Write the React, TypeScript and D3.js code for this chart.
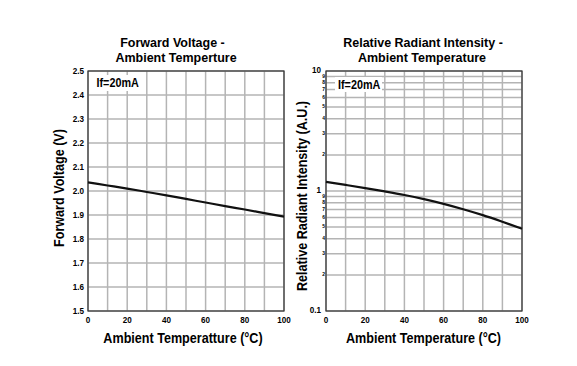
import * as d3 from 'd3'

// temperature samples (°C)
const temps = [0, 10, 20, 30, 40, 50, 60, 70, 80, 90, 100]
// forward voltage (V) at If=20mA
const forwardVoltage = [2.036, 2.023, 2.01, 1.996, 1.982, 1.967, 1.952, 1.937, 1.923, 1.908, 1.893]
// relative radiant intensity (A.U.)
const radiantIntensity = [1.19, 1.123, 1.058, 0.992, 0.926, 0.856, 0.782, 0.705, 0.629, 0.554, 0.485]

const xTickLabels = [0, 20, 40, 60, 80, 100]
const xGrid = [0, 10, 20, 30, 40, 50, 60, 70, 80, 90, 100]
const vfTicks = [1.5, 1.6, 1.7, 1.8, 1.9, 2.0, 2.1, 2.2, 2.3, 2.4, 2.5]
const logMajor = [0.1, 1, 10]
const logMinorDigits = [2, 3, 4, 5, 6, 7, 8, 9]

const FONT = '"Liberation Sans", Arial, Helvetica, sans-serif'
const GRID = '#b4b4b4'

const plotTop = 71
const plotBottom = 311
const leftPlot = { left: 88, right: 284 }
const rightPlot = { left: 326, right: 522 }

function T({ x, y, size, children, anchor = 'middle', rotate = 0, sx = 0.9 }: any) {
  const tr = `translate(${x},${y})${rotate ? ` rotate(${rotate})` : ''} scale(${sx},1)`
  return (
    <text
      transform={tr}
      fontSize={size}
      fontFamily={FONT}
      fontWeight="bold"
      textAnchor={anchor}
      dominantBaseline="central"
      fill="#000"
    >
      {children}
    </text>
  )
}

function LeftChart() {
  const x = d3.scaleLinear().domain([0, 100]).range([leftPlot.left, leftPlot.right])
  const y = d3.scaleLinear().domain([1.5, 2.5]).range([plotBottom, plotTop])
  const line = d3
    .line<number>()
    .x((_, i) => x(temps[i]))
    .y(d => y(d))
    .curve(d3.curveMonotoneX)

  return (
    <g>
      <T x={172.5} y={42} size={13.3} sx={0.94}>Forward Voltage -</T>
      <T x={176} y={57.5} size={13.3} sx={0.94}>Ambient Temperture</T>
      {xGrid.map(t => (
        <line key={'vx' + t} x1={x(t)} x2={x(t)} y1={plotTop} y2={plotBottom} stroke={GRID} strokeWidth={1.5} />
      ))}
      {vfTicks.map(v => (
        <line key={'hy' + v} x1={leftPlot.left} x2={leftPlot.right} y1={y(v)} y2={y(v)} stroke={GRID} strokeWidth={1.5} />
      ))}
      <rect x={leftPlot.left} y={plotTop} width={leftPlot.right - leftPlot.left} height={plotBottom - plotTop} fill="none" stroke="#333" strokeWidth={1.2} />
      <path d={line(forwardVoltage) || ''} fill="none" stroke="#111" strokeWidth={2.2} />
      <rect x={92} y={75} width={50} height={16} fill="#fff" />
      <T x={96.5} y={83} size={12} anchor="start">If=20mA</T>
      {vfTicks.map(v => (
        <T key={'yl' + v} x={84} y={y(v)} size={9} anchor="end">{v.toFixed(1)}</T>
      ))}
      {xTickLabels.map(t => (
        <T key={'xl' + t} x={x(t)} y={320} size={9}>{t}</T>
      ))}
      <T x={183} y={338} size={14}>Ambient Temperatture (°C)</T>
      <T x={59} y={188} size={14} rotate={-90}>Forward Voltage (V)</T>
    </g>
  )
}

function RightChart() {
  const x = d3.scaleLinear().domain([0, 100]).range([rightPlot.left, rightPlot.right])
  const y = d3.scaleLog().domain([0.1, 10]).range([plotBottom, plotTop])
  const line = d3
    .line<number>()
    .x((_, i) => x(temps[i]))
    .y(d => y(d))
    .curve(d3.curveMonotoneX)
  const minor = [0.1, 1].flatMap(dec => logMinorDigits.map(d => ({ v: d * dec, d })))
  const hLines = [...logMajor, ...minor.map(m => m.v)]

  return (
    <g>
      <T x={423} y={42} size={13.3} sx={0.94}>Relative Radiant Intensity -</T>
      <T x={422} y={57.5} size={13.3} sx={0.94}>Ambient Temperature</T>
      {xGrid.map(t => (
        <line key={'vx' + t} x1={x(t)} x2={x(t)} y1={plotTop} y2={plotBottom} stroke={GRID} strokeWidth={1.5} />
      ))}
      {hLines.map(v => (
        <line key={'hy' + v} x1={rightPlot.left} x2={rightPlot.right} y1={y(v)} y2={y(v)} stroke={GRID} strokeWidth={1.5} />
      ))}
      <rect x={rightPlot.left} y={plotTop} width={rightPlot.right - rightPlot.left} height={plotBottom - plotTop} fill="none" stroke="#333" strokeWidth={1.2} />
      <path d={line(radiantIntensity) || ''} fill="none" stroke="#111" strokeWidth={2.2} />
      <rect x={335} y={77} width={47} height={15} fill="#fff" />
      <T x={338} y={84.5} size={12} anchor="start">If=20mA</T>
      {logMajor.map(v => (
        <T key={'ml' + v} x={321} y={y(v) - 1} size={9} anchor="end">{String(v)}</T>
      ))}
      {minor.map(m => (
        <T key={'mn' + m.v} x={325} y={y(m.v) - 1} size={5.5} anchor="end">{m.d}</T>
      ))}
      {xTickLabels.map(t => (
        <T key={'xl' + t} x={x(t)} y={320} size={9}>{t}</T>
      ))}
      <T x={423.5} y={338} size={14}>Ambient Temperature (°C)</T>
      <T x={302} y={196} size={14} rotate={-90}>Relative Radiant Intensity (A.U.)</T>
    </g>
  )
}

export default function App() {
  return (
    <svg
      width={577}
      height={366}
      style={{ position: 'absolute', left: 0, top: 0, background: '#fff' }}
    >
      <rect width={577} height={366} fill="#fff" />
      <LeftChart />
      <RightChart />
    </svg>
  )
}
